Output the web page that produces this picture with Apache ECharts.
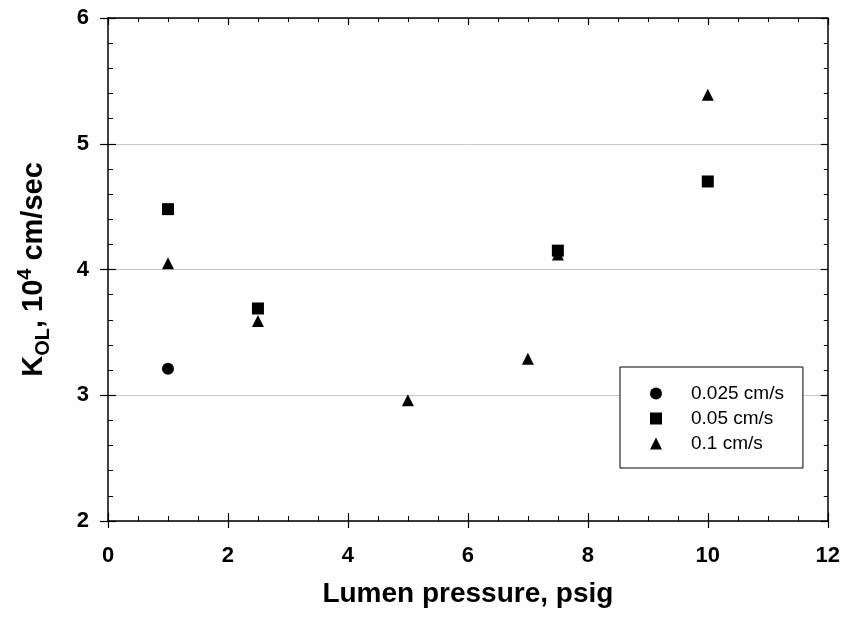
<!DOCTYPE html>
<html>
<head>
<meta charset="utf-8">
<script src="https://cdn.jsdelivr.net/npm/echarts@6/dist/echarts.min.js"></script>
<style>
  html, body { margin: 0; padding: 0; background: #fff; }
  #chart { width: 843px; height: 618px; }
</style>
</head>
<body>
<div id="chart"></div>
<script>
// Overall mass-transfer coefficient vs. lumen pressure, one series per velocity
const seriesNames = ['0.025 cm/s', '0.05 cm/s', '0.1 cm/s'];
const seriesSymbols = ['circle', 'rect', 'triangle'];

const pressure0025 = [1];
const kol0025 = [3.21];

const pressure005 = [1, 2.5, 7.5, 10];
const kol005 = [4.48, 3.69, 4.15, 4.70];

const pressure01 = [1, 2.5, 5, 7, 7.5, 10];
const kol01 = [4.05, 3.59, 2.96, 3.29, 4.12, 5.39];

const xTicks = { min: 0, max: 12, interval: 2 };
const yTicks = { min: 2, max: 6, interval: 1 };

const pairs = (xs, ys) => xs.map((x, i) => [x, ys[i]]);
const seriesData = [
  pairs(pressure0025, kol0025),
  pairs(pressure005, kol005),
  pairs(pressure01, kol01)
];

const FONT = '"Liberation Sans", Arial, Helvetica, sans-serif';
const AX = '#000';

function baseX(extra) {
  return Object.assign({
    type: 'value', min: xTicks.min, max: xTicks.max, interval: xTicks.interval,
    axisLine: { show: true, onZero: false, lineStyle: { color: AX, width: 1.5 } },
    axisTick: { show: true, inside: true, length: 8, lineStyle: { color: AX, width: 1.2 } },
    minorTick: { show: true, splitNumber: 4, length: 5, lineStyle: { color: AX, width: 1 } },
    axisLabel: { show: false },
    splitLine: { show: false }
  }, extra);
}
function baseY(extra) {
  return Object.assign({
    type: 'value', min: yTicks.min, max: yTicks.max, interval: yTicks.interval,
    axisLine: { show: true, onZero: false, lineStyle: { color: AX, width: 1.5 } },
    axisTick: { show: true, inside: true, length: 8, lineStyle: { color: AX, width: 1.2 } },
    minorTick: { show: true, splitNumber: 5, length: 5, lineStyle: { color: AX, width: 1 } },
    axisLabel: { show: false },
    splitLine: { show: false }
  }, extra);
}

const chart = echarts.init(document.getElementById('chart'), null, { renderer: 'canvas' });

chart.setOption({
  animation: false,
  backgroundColor: '#fff',
  textStyle: { fontFamily: FONT },
  grid: { left: 108, right: 15, top: 18, bottom: 97, containLabel: false },
  xAxis: [
    baseX({
      position: 'bottom',
      name: 'Lumen pressure, psig',
      nameLocation: 'middle',
      nameGap: 59,
      nameTextStyle: { fontFamily: FONT, fontSize: 28, fontWeight: 'bold', color: '#000' },
      axisLabel: { show: true, margin: 24, fontFamily: FONT, fontSize: 22, fontWeight: 'bold', color: '#000' }
    }),
    // outward half of the major ticks on the bottom axis
    baseX({
      position: 'bottom',
      axisLine: { show: false },
      axisTick: { show: true, inside: false, length: 7, lineStyle: { color: AX, width: 1.2 } },
      minorTick: { show: false }
    }),
    baseX({ position: 'top', axisTick: { show: true, inside: true, length: 7, lineStyle: { color: AX, width: 1.2 } }, minorTick: { show: true, splitNumber: 4, length: 4, lineStyle: { color: AX, width: 1 } } })
  ],
  yAxis: [
    baseY({
      position: 'left',
      name: '{b|K}{sub|OL}{b|, 10}{sup|4}{b| cm/sec}',
      nameLocation: 'middle',
      nameGap: 55,
      nameRotate: 90,
      nameTextStyle: {
        fontFamily: FONT, color: '#000',
        rich: {
          b: { fontFamily: FONT, fontSize: 29, fontWeight: 'bold', color: '#000', lineHeight: 38 },
          sub: { fontFamily: FONT, fontSize: 20, fontWeight: 'bold', color: '#000', lineHeight: 20, verticalAlign: 'bottom' },
          sup: { fontFamily: FONT, fontSize: 20, fontWeight: 'bold', color: '#000', lineHeight: 20, verticalAlign: 'top' }
        }
      },
      axisLabel: { show: true, margin: 19, fontFamily: FONT, fontSize: 22, fontWeight: 'bold', color: '#000' },
      splitLine: { show: true, lineStyle: { color: '#c8c8c8', width: 1 } }
    }),
    // outward half of the major ticks on the left axis
    baseY({
      position: 'left',
      axisLine: { show: false },
      axisTick: { show: true, inside: false, length: 8, lineStyle: { color: AX, width: 1.2 } },
      minorTick: { show: false }
    }),
    baseY({ position: 'right', axisTick: { show: true, inside: true, length: 7, lineStyle: { color: AX, width: 1.2 } }, minorTick: { show: true, splitNumber: 5, length: 4, lineStyle: { color: AX, width: 1 } } })
  ],
  legend: {
    orient: 'vertical',
    left: 620,
    top: 367,
    padding: [17, 19, 15, 30],
    itemGap: 6,
    itemWidth: 12,
    itemHeight: 12,
    backgroundColor: '#fff',
    borderColor: '#000',
    borderWidth: 1,
    borderRadius: 0,
    selectedMode: false,
    textStyle: { fontFamily: FONT, fontSize: 19, color: '#000', padding: [0, 0, 0, 24] },
    data: seriesNames.map((n, i) => ({ name: n, icon: seriesSymbols[i], itemStyle: { color: '#000', opacity: 1 } }))
  },
  series: seriesNames.map((n, i) => ({
    name: n,
    type: 'scatter',
    xAxisIndex: 0,
    yAxisIndex: 0,
    symbol: seriesSymbols[i],
    symbolSize: 12,
    itemStyle: { color: '#000', opacity: 1 },
    z: 5,
    data: seriesData[i]
  }))
});
</script>
</body>
</html>
